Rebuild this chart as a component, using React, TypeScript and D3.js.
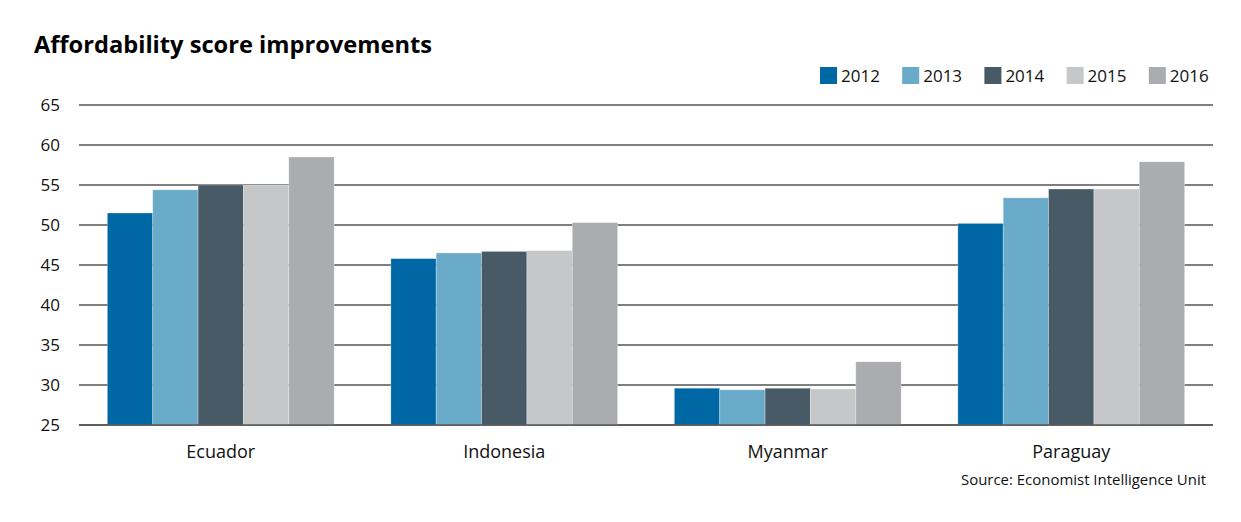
import React from "react";
import * as d3 from "d3";

const categories = ["Ecuador", "Indonesia", "Myanmar", "Paraguay"];
const years = ["2012", "2013", "2014", "2015", "2016"];
const values2012 = [51.5, 45.8, 29.6, 50.2];
const values2013 = [54.4, 46.5, 29.4, 53.4];
const values2014 = [55.0, 46.7, 29.6, 54.5];
const values2015 = [55.0, 46.8, 29.5, 54.5];
const values2016 = [58.5, 50.3, 32.9, 57.9];
const series = [values2012, values2013, values2014, values2015, values2016];
const colors = ["#0067a5", "#6aabc9", "#475a66", "#c6c7c9", "#abacb0"];
const yTicks = [25, 30, 35, 40, 45, 50, 55, 60, 65];

const W = 1241;
const H = 522;
const left = 79;
const right = 1213;
const top = 105;
const bottom = 425;
const FONT = "'Open Sans', 'DejaVu Sans', sans-serif";

export default function App() {
  const x = d3.scaleBand<string>().domain(categories).range([left, right]).paddingInner(0.2).paddingOuter(0.1);
  const xi = d3.scaleBand<string>().domain(years).range([0, x.bandwidth()]);
  const y = d3.scaleLinear().domain([25, 65]).range([bottom, top]);

  return (
    <svg width={W} height={H} style={{ position: "absolute", left: 0, top: 0, background: "#fff" }}>
      <rect x={0} y={0} width={W} height={H} fill="#fff" />
      <text x={34} y={53} fontFamily={FONT} fontWeight={700} fontSize={23} fill="#000" textLength={398} lengthAdjust="spacingAndGlyphs">
        Affordability score improvements
      </text>
      {years.map((yr, i) => {
        const lx = 820 + i * 82.2;
        return (
          <g key={yr}>
            <rect x={lx} y={67} width={17} height={17} fill={colors[i]} />
            <text x={lx + 21} y={81.5} fontFamily={FONT} fontSize={17} fill="#111">{yr}</text>
          </g>
        );
      })}
      {yTicks.map((t) => (
        <g key={t}>
          <line x1={left} x2={right} y1={y(t)} y2={y(t)} stroke="#555" strokeWidth={1.3} />
          <text x={60} y={y(t) + 6} textAnchor="end" fontFamily={FONT} fontSize={17} fill="#111">{t}</text>
        </g>
      ))}
      {categories.map((c, ci) => (
        <g key={c}>
          {years.map((yr, si) => {
            const v = series[si][ci];
            return (
              <rect
                key={yr}
                x={(x(c) as number) + (xi(yr) as number)}
                y={y(v)}
                width={xi.bandwidth()}
                height={y(25) - y(v)}
                fill={colors[si]}
                stroke="rgba(255,255,255,0.35)"
                strokeWidth={0.8}
              />
            );
          })}
          <text x={(x(c) as number) + x.bandwidth() / 2} y={458} textAnchor="middle" fontFamily={FONT} fontSize={18} fill="#111">{c}</text>
        </g>
      ))}
      <line x1={left} x2={right} y1={y(25)} y2={y(25)} stroke="#555" strokeWidth={1.3} />
      <text x={1206} y={485} textAnchor="end" fontFamily={FONT} fontSize={15} fill="#111" textLength={245} lengthAdjust="spacingAndGlyphs">Source: Economist Intelligence Unit</text>
    </svg>
  );
}
